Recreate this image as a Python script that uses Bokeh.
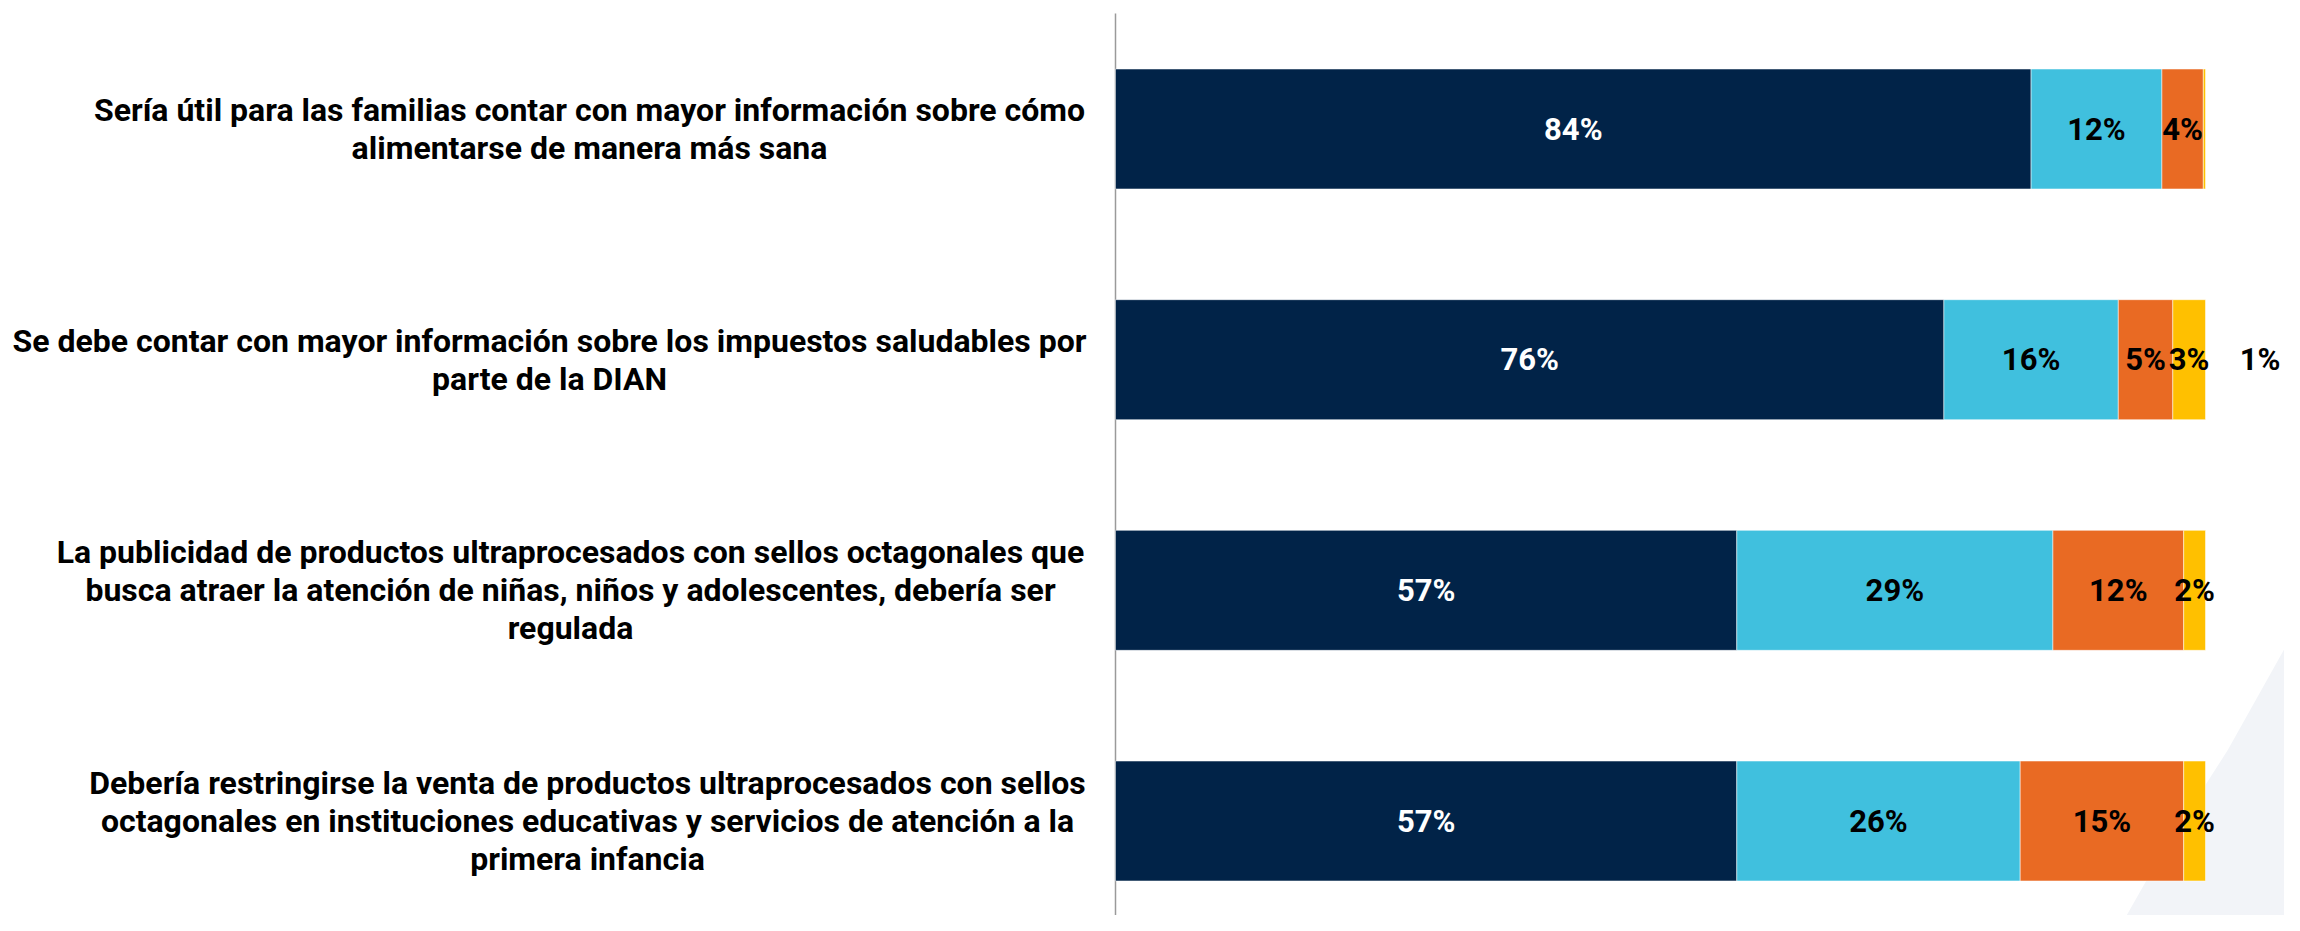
import numpy as np
from bokeh.plotting import figure
from bokeh.models import ColumnDataSource, Range1d
from bokeh.core.properties import value
from bokeh.embed import file_html
from bokeh.resources import INLINE

# ---------------- data ----------------
label_lines = [
    ["Sería útil para las familias contar con mayor información sobre cómo",
     "alimentarse de manera más sana"],
    ["Se debe contar con mayor información sobre los impuestos saludables por",
     "parte de la DIAN"],
    ["La publicidad de productos ultraprocesados con sellos octagonales que",
     "busca atraer la atención de niñas, niños y adolescentes, debería ser",
     "regulada"],
    ["Debería restringirse la venta de productos ultraprocesados con sellos",
     "octagonales en instituciones educativas y servicios de atención a la",
     "primera infancia"],
]
serie_1 = [84, 76, 57, 57]      # dark navy
serie_2 = [12, 16, 29, 26]      # light blue
serie_3 = [3.8, 5, 12, 15]      # orange
serie_4 = [0.2, 3, 2, 2]        # yellow
serie_5 = [0, 1, 0, 0]          # not drawn, label only
series = [serie_1, serie_2, serie_3, serie_4]
colors = ["#012348", "#40C0DE", "#E96A23", "#FFC000"]
label_colors = ["white", "black", "black", "black"]

# ---------------- layout constants (pixels of the picture) ----------------
W, H = 2284, 915
PX0 = 1115.0          # x pixel of value 0
PXU = 10.9            # pixels per percentage point
PY0 = 128.5           # y pixel of first bar centre
PYU = 230.67          # pixels between bars
label_center_px = [589, 549, 570, 587]
LINE_H = 38
FONT = "Roboto"

def dx(px):
    return (px - PX0) / PXU

def dy(py):
    return (py - PY0) / PYU

p = figure(width=W, height=H, output_backend="svg", toolbar_location=None,
           x_range=Range1d(dx(0), dx(W)),
           y_range=Range1d(dy(H), dy(0)),
           x_axis_location=None, y_axis_location=None,
           min_border=0, outline_line_color=None,
           background_fill_color="white", border_fill_color="white")
p.grid.visible = False

# decorative light shape in the lower right corner
deco_px = [(2300, 613), (2283, 650), (2227, 750), (2163, 850), (2117, 931), (2300, 931)]
p.patch([dx(a) for a, b in deco_px], [dy(b) for a, b in deco_px],
        fill_color="#F2F4F8", line_color=None)

# vertical axis line
p.segment(x0=[0], y0=[dy(13)], x1=[0], y1=[dy(H + 20)], line_color="#9A9A9A", line_width=1.5)

idx = np.arange(len(label_lines))
vals = np.array(series, dtype=float)
rights = np.cumsum(vals, axis=0)
lefts = rights - vals

for k in range(len(series)):
    src = ColumnDataSource(dict(y=idx, left=lefts[k], right=rights[k]))
    p.hbar(y="y", left="left", right="right", height=0.52, source=src,
           fill_color=colors[k], line_color="white", line_width=1, line_alpha=0.5)

# value labels inside segments
for k in range(len(series)):
    xs, ys, ts = [], [], []
    for i in idx:
        v = vals[k][i]
        if v >= 1:
            xs.append((lefts[k][i] + rights[k][i]) / 2)
            ys.append(i)
            ts.append(f"{round(v):.0f}%")
    p.text(x=xs, y=ys, text=ts, text_align="center", text_baseline="middle",
           text_font=value(FONT), text_font_style="bold", text_font_size="31px",
           text_color=label_colors[k])

# fifth-series labels placed outside the bar
xs, ys, ts = [], [], []
for i in idx:
    if serie_5[i] > 0:
        xs.append(rights[-1][i] + serie_5[i] + 4.0)
        ys.append(i)
        ts.append(f"{serie_5[i]}%")
p.text(x=xs, y=ys, text=ts, text_align="center", text_baseline="middle",
       text_font=value(FONT), text_font_style="bold", text_font_size="31px",
       text_color="black")

# category labels (each line centred on its block)
for i, lines in enumerate(label_lines):
    n = len(lines)
    xs = [dx(label_center_px[i])] * n
    ys = [i] * n
    offs = [(j - (n - 1) / 2) * LINE_H for j in range(n)]
    p.text(x=xs, y=ys, text=lines, y_offset=offs, text_align="center",
           text_baseline="middle", text_font=value(FONT), text_font_style="bold",
           text_font_size="32px", text_color="black")

open("out.html", "w").write(file_html(p, INLINE))
